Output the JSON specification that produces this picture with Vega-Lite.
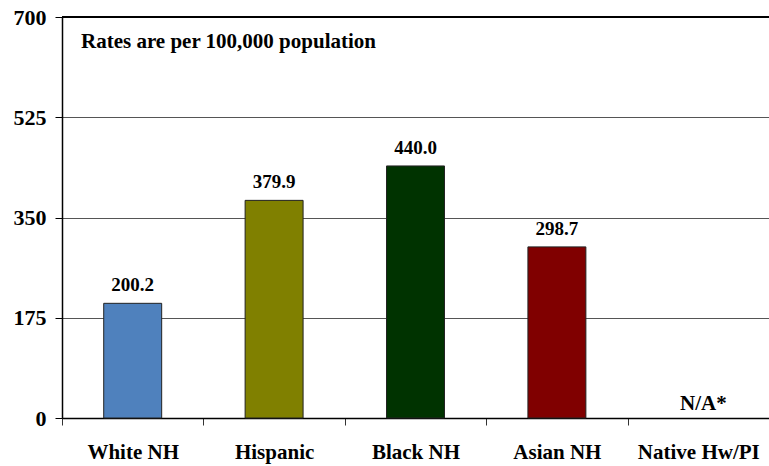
{
  "$schema": "https://vega.github.io/schema/vega-lite/v6.json",
  "autosize": "none",
  "width": 707,
  "height": 401,
  "padding": {"left": 62, "top": 17, "right": 0, "bottom": 48},
  "background": "white",
  "config": {
    "view": {"stroke": null},
    "font": "Times New Roman, Liberation Serif, serif"
  },
  "data": {
    "values": [
      {"group": "White NH", "rate": 200.2, "label": "200.2"},
      {"group": "Hispanic", "rate": 379.9, "label": "379.9"},
      {"group": "Black NH", "rate": 440.0, "label": "440.0"},
      {"group": "Asian NH", "rate": 298.7, "label": "298.7"},
      {"group": "Native Hw/PI", "rate": null, "label": "N/A*"}
    ]
  },
  "encoding": {
    "x": {
      "field": "group",
      "type": "nominal",
      "sort": null,
      "scale": {"paddingInner": 0, "paddingOuter": 0},
      "axis": {
        "title": null,
        "labelAngle": 0,
        "labelFont": "Times New Roman, Liberation Serif, serif",
        "labelFontWeight": "bold",
        "labelFontSize": 21,
        "labelColor": "black",
        "labelPadding": 16,
        "domainColor": "black",
        "domainWidth": 1.5,
        "tickColor": "#333",
        "tickSize": 7,
        "tickBand": "extent",
        "grid": false
      }
    }
  },
  "layer": [
    {
      "mark": {"type": "bar", "width": {"band": 0.41}, "stroke": "#222", "strokeWidth": 1},
      "encoding": {
        "y": {
          "field": "rate",
          "type": "quantitative",
          "scale": {"domain": [0, 700], "nice": false},
          "axis": {
            "title": null,
            "values": [0, 175, 350, 525, 700],
            "labelFont": "Times New Roman, Liberation Serif, serif",
            "labelFontWeight": "bold",
            "labelFontSize": 22,
            "labelColor": "black",
            "labelPadding": 9,
            "domainColor": "black",
            "domainWidth": 1.5,
            "tickColor": "black",
            "tickSize": 7,
            "gridColor": "#555",
            "gridWidth": 1
          }
        },
        "color": {
          "field": "group",
          "type": "nominal",
          "sort": null,
          "scale": {
            "domain": ["White NH", "Hispanic", "Black NH", "Asian NH", "Native Hw/PI"],
            "range": ["#4F81BD", "#808000", "#003300", "#800000", "#ffffff"]
          },
          "legend": null
        }
      }
    },
    {
      "mark": {"type": "text", "dy": -12, "font": "Times New Roman, Liberation Serif, serif", "fontWeight": "bold", "fontSize": 19, "color": "black", "baseline": "alphabetic"},
      "encoding": {
        "y": {"field": "rate", "type": "quantitative", "impute": null},
        "text": {"field": "label"}
      },
      "transform": [{"filter": "datum.rate != null"}]
    },
    {
      "mark": {"type": "text", "dy": -4, "dx": 5, "font": "Times New Roman, Liberation Serif, serif", "fontWeight": "bold", "fontSize": 21, "color": "black", "baseline": "bottom"},
      "encoding": {
        "y": {"datum": 0, "type": "quantitative"},
        "text": {"field": "label"}
      },
      "transform": [{"filter": "datum.rate == null"}]
    },
    {
      "mark": {"type": "rule", "color": "black", "strokeWidth": 2},
      "encoding": {"y": {"datum": 700, "type": "quantitative"}, "x": {"value": 0}, "x2": {"value": 707}},
      "transform": [{"filter": "datum.group == 'White NH'"}]
    },
    {
      "mark": {"type": "text", "align": "left", "baseline": "alphabetic", "font": "Times New Roman, Liberation Serif, serif", "fontWeight": "bold", "fontSize": 21, "color": "black"},
      "encoding": {
        "x": {"value": 19},
        "y": {"value": 31},
        "text": {"value": "Rates are per 100,000 population"}
      },
      "transform": [{"filter": "datum.group == 'White NH'"}]
    }
  ]
}
